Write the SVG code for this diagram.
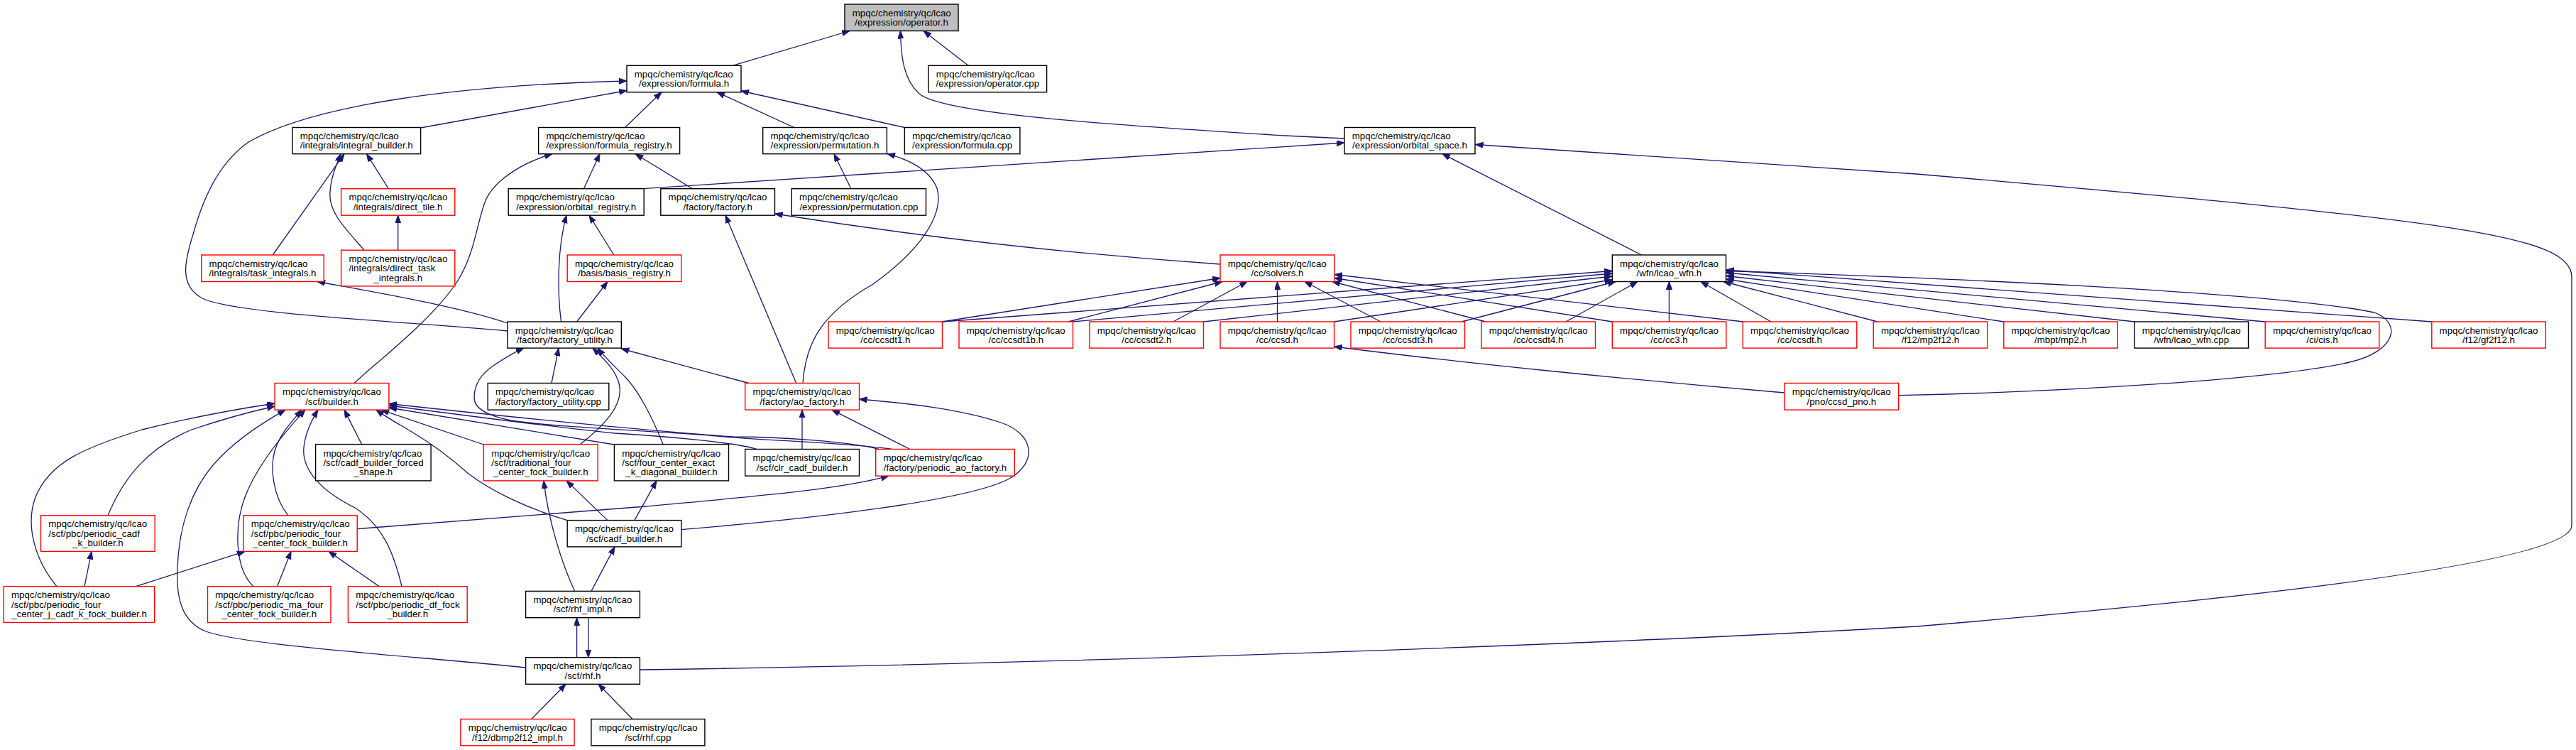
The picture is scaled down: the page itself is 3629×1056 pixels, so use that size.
<svg xmlns="http://www.w3.org/2000/svg" width="3629" height="1056" viewBox="0 0 3629 1056">
<style>
.n rect{fill:#fff;stroke:#000;stroke-width:1.4}
.n.r rect{stroke:#f00}
.n.g rect{fill:#bfbfbf}
text{font-family:"Liberation Sans",Arial,Helvetica,sans-serif;font-size:13.3px;fill:#000}
.m{text-anchor:middle}
#edges path{fill:none;stroke:#191970;stroke-width:1.3;marker-end:url(#a)}
</style>
<defs>
<marker id="a" markerUnits="userSpaceOnUse" markerWidth="12" markerHeight="9" refX="11" refY="4" orient="auto"><path d="M0,0 L11,4 L0,8 z" fill="#191970" stroke="#191970" stroke-width="1"/></marker>
</defs>
<rect width="3629" height="1056" fill="#fff"/>

<g id="edges">
<path d="M1032,92.3 L1197,43.5"/>
<path d="M1364,92.3 L1301,43.5"/>
<path d="M1894,195 L1810,191 C1600,178 1330,162 1295,132 C1273,112 1269,80 1268.6,43.5"/>
<path d="M592.6,180 L883,127.5"/>
<path d="M715,466 C560,452 330,442 285,420 C252,402 260,368 272,330 C290,265 315,225 350,200 C440,148 640,120 883,114"/>
<path d="M880.5,179.5 L932,129.8"/>
<path d="M1118.8,179.5 L1010,129.8"/>
<path d="M1274.4,179.5 L1044,128"/>
<path d="M547.3,265.7 L516.5,216.7"/>
<path d="M384.2,359 L485,216.7"/>
<path d="M513,352.2 C490,325 462,300 465,270 C466,250 474,232 480,216.7"/>
<path d="M560.7,352.2 L560.7,303.2"/>
<path d="M822.4,265.7 L845,216.7"/>
<path d="M975.5,265.7 L895,216.7"/>
<path d="M499,539.5 C530,510 610,450 645,395 C670,355 672,310 685,280 C700,250 740,228 778,216.7"/>
<path d="M905.8,265.7 L1894,201"/>
<path d="M2312.5,359 L2032,216.7"/>
<path d="M901.4,943 C1500,935 2300,905 2700,882 C3200,840 3623,790 3623,740 L3623,390 C3623,330 3450,310 2700,245 L2078.6,203.5"/>
<path d="M864.8,359 L830,303.2"/>
<path d="M790.5,453 C785,410 785,350 798,303.2"/>
<path d="M1719,372 Q1400,350 1091.5,301"/>
<path d="M1121.7,539.5 L1022,303.2"/>
<path d="M1198.9,265.7 L1175,216.7"/>
<path d="M1131,539.5 C1135,480 1160,440 1230,400 C1300,350 1330,300 1320,265 C1310,240 1282,225 1250,216.7"/>
<path d="M812.6,453 L856,396.5"/>
<path d="M715,455 C640,430 520,410 447,396.5"/>
<path d="M1327,453 L1719,391.5"/>
<path d="M1505,453 L1722,396.5"/>
<path d="M1652.7,453 L1757,396.5"/>
<path d="M1799.5,453 L1799.5,396.5"/>
<path d="M1945,453 L1838,396.5"/>
<path d="M2093,453 L1877,396.5"/>
<path d="M2271.5,453 L1880,391.5"/>
<path d="M2456,453 L1880,386.5"/>
<path d="M1327.8,453 L2271.3,381.5"/>
<path d="M1511.5,453 L2271.3,385"/>
<path d="M1695.5,453 L2271.3,389"/>
<path d="M1879.5,453 L2271.3,394"/>
<path d="M2059,453 L2276,396.5"/>
<path d="M2206,453 L2307,396.5"/>
<path d="M2351.4,453 L2351.4,396.5"/>
<path d="M2495,453 L2396,396.5"/>
<path d="M2645,453 L2428,396.5"/>
<path d="M2823,453 L2431.5,393"/>
<path d="M3007,453 L2431.5,388.5"/>
<path d="M3191,453 L2431.5,384"/>
<path d="M3426,453 L2431.5,380"/>
<path d="M2674.7,556.6 C2900,552 3200,535 3310,510 C3375,495 3385,455 3345,440 C3200,410 2700,390 2431.5,381.5"/>
<path d="M2513.9,553 C2300,535 2050,510 1879.5,488"/>
<path d="M1257,632.5 C1180,622 1060,620 1000,613 C880,605 770,600 720,592 C685,585 668,575 668,560 C668,540 680,525 695,515 C708,506 720,498 738,490.1"/>
<path d="M777,539.5 L787,490.1"/>
<path d="M817.5,625.6 C850,600 880,570 872,540 C867,520 850,505 835,490.1"/>
<path d="M934,625.6 C920,590 900,550 880,530 C865,515 852,503 842,490.1"/>
<path d="M1054.7,539.5 L875.3,491"/>
<path d="M1130,632.5 L1130,577.1"/>
<path d="M1282,632.5 L1172,577.1"/>
<path d="M959.8,745.6 C1150,730 1360,705 1420,675 C1465,650 1455,610 1410,595 C1350,575 1270,567 1210.5,562"/>
<path d="M503.2,744.6 L910,713 C1050,700 1180,690 1252,670.1"/>
<path d="M856,732.6 L798,676.9"/>
<path d="M809.6,832.4 C790,790 772,730 766,676.9"/>
<path d="M833,832.4 L866,769.9"/>
<path d="M893.8,732.6 L925,676.9"/>
<path d="M191.5,825.6 L345,776.4"/>
<path d="M390.6,825.6 L410,776.4"/>
<path d="M534,825.6 L463,776.4"/>
<path d="M119,825.6 L129,776.4"/>
<path d="M812.6,925.7 L812.6,869.7"/>
<path d="M828.8,869.7 L828.8,925.7"/>
<path d="M748.7,1012.5 L797,963.3"/>
<path d="M891,1012.5 L843,963.3"/>
<path d="M80,825.6 C50,790 35,740 50,700 C70,650 120,630 200,605 C280,585 340,575 387.1,568"/>
<path d="M152,725.8 C175,670 210,630 270,605 C320,588 360,578 387.1,572"/>
<path d="M740.6,940 C600,925 350,910 290,889 C255,875 248,840 250,800 C252,740 270,690 300,655 C330,620 370,595 402,577.1"/>
<path d="M406,725.8 C385,700 380,660 387,635 C395,610 410,595 425,577.1"/>
<path d="M357,825.6 C330,800 330,740 345,700 C360,660 395,615 430,577.1"/>
<path d="M566,825.6 C555,780 540,740 500,715 C450,690 425,660 428,630 C430,610 440,590 448,577.1"/>
<path d="M509.6,625.6 L485,577.1"/>
<path d="M799.2,732.6 C740,715 690,690 660,667 C630,640 600,620 580,608 C560,596 545,588 530,577.1"/>
<path d="M681.4,626 L537,577.1"/>
<path d="M865.4,626 L548,574"/>
<path d="M1066.5,632.5 C1040,624 950,615 866,610 C750,598 620,580 548,571"/>
<path d="M1238,632.5 C1200,622 1100,615 1033,615 C900,606 700,585 548,568.5"/>
</g>

<g id="n_operator_h" class="n g"><rect x="1190" y="6" width="160" height="37.5"/><text x="1200.8" y="22.7">mpqc/chemistry/qc/lcao</text><text class="m" x="1270" y="36.1">/expression/operator.h</text></g>
<g id="n_formula_h" class="n"><rect x="883" y="92.3" width="161" height="37.5"/><text x="893.8" y="109">mpqc/chemistry/qc/lcao</text><text class="m" x="963.5" y="122.4">/expression/formula.h</text></g>
<g id="n_operator_cpp" class="n"><rect x="1308" y="92.3" width="166.6" height="37.5"/><text x="1318.8" y="109">mpqc/chemistry/qc/lcao</text><text class="m" x="1391.3" y="122.4">/expression/operator.cpp</text></g>
<g id="n_integral_builder_h" class="n"><rect x="412" y="179.5" width="180.6" height="37.2"/><text x="422.8" y="196">mpqc/chemistry/qc/lcao</text><text class="m" x="502.3" y="209.4">/integrals/integral_builder.h</text></g>
<g id="n_formula_registry_h" class="n"><rect x="758.6" y="179.5" width="199" height="37.2"/><text x="769.4" y="196">mpqc/chemistry/qc/lcao</text><text class="m" x="858.1" y="209.4">/expression/formula_registry.h</text></g>
<g id="n_permutation_h" class="n"><rect x="1074.7" y="179.5" width="174.7" height="37.2"/><text x="1085.5" y="196">mpqc/chemistry/qc/lcao</text><text class="m" x="1162" y="209.4">/expression/permutation.h</text></g>
<g id="n_formula_cpp" class="n"><rect x="1274.4" y="179.5" width="162.5" height="37.2"/><text x="1285.2" y="196">mpqc/chemistry/qc/lcao</text><text class="m" x="1355.6" y="209.4">/expression/formula.cpp</text></g>
<g id="n_orbital_space_h" class="n"><rect x="1894" y="179.5" width="184" height="37.2"/><text x="1904.8" y="196">mpqc/chemistry/qc/lcao</text><text class="m" x="1986" y="209.4">/expression/orbital_space.h</text></g>
<g id="n_direct_tile_h" class="n r"><rect x="480.6" y="265.7" width="160.2" height="37.5"/><text x="491.4" y="282.4">mpqc/chemistry/qc/lcao</text><text class="m" x="560.7" y="295.8">/integrals/direct_tile.h</text></g>
<g id="n_orbital_registry_h" class="n"><rect x="716.2" y="265.7" width="191" height="37.5"/><text x="727" y="282.4">mpqc/chemistry/qc/lcao</text><text class="m" x="811.7" y="295.8">/expression/orbital_registry.h</text></g>
<g id="n_factory_h" class="n"><rect x="930.8" y="265.7" width="160.7" height="37.5"/><text x="941.6" y="282.4">mpqc/chemistry/qc/lcao</text><text class="m" x="1011.2" y="295.8">/factory/factory.h</text></g>
<g id="n_permutation_cpp" class="n"><rect x="1115.3" y="265.7" width="189.2" height="37.5"/><text x="1126.1" y="282.4">mpqc/chemistry/qc/lcao</text><text class="m" x="1209.9" y="295.8">/expression/permutation.cpp</text></g>
<g id="n_task_integrals_h" class="n r"><rect x="283.8" y="359" width="172.4" height="37.5"/><text x="294.6" y="375.7">mpqc/chemistry/qc/lcao</text><text class="m" x="370" y="389.1">/integrals/task_integrals.h</text></g>
<g id="n_direct_task_integrals_h" class="n r"><rect x="480.6" y="352.2" width="160.2" height="50.7"/><text x="491.4" y="368.8">mpqc/chemistry/qc/lcao</text><text x="491.4" y="382.2">/integrals/direct_task</text><text class="m" x="560.7" y="395.6">_integrals.h</text></g>
<g id="n_basis_registry_h" class="n r"><rect x="799.2" y="359" width="160.6" height="37.5"/><text x="810" y="375.7">mpqc/chemistry/qc/lcao</text><text class="m" x="879.5" y="389.1">/basis/basis_registry.h</text></g>
<g id="n_solvers_h" class="n r"><rect x="1719" y="359" width="161" height="37.5"/><text x="1729.8" y="375.7">mpqc/chemistry/qc/lcao</text><text class="m" x="1799.5" y="389.1">/cc/solvers.h</text></g>
<g id="n_lcao_wfn_h" class="n"><rect x="2271.3" y="359" width="160.2" height="37.5"/><text x="2282.1" y="375.7">mpqc/chemistry/qc/lcao</text><text class="m" x="2351.4" y="389.1">/wfn/lcao_wfn.h</text></g>
<g id="n_factory_utility_h" class="n"><rect x="715" y="453" width="160.3" height="37.1"/><text x="725.8" y="469.5">mpqc/chemistry/qc/lcao</text><text class="m" x="795.2" y="482.9">/factory/factory_utility.h</text></g>
<g id="n_ccsdt1_h" class="n r"><rect x="1167" y="453" width="160.5" height="37.1"/><text x="1177.8" y="469.5">mpqc/chemistry/qc/lcao</text><text class="m" x="1247.3" y="482.9">/cc/ccsdt1.h</text></g>
<g id="n_ccsdt1b_h" class="n r"><rect x="1351" y="453" width="160.5" height="37.1"/><text x="1361.8" y="469.5">mpqc/chemistry/qc/lcao</text><text class="m" x="1431.3" y="482.9">/cc/ccsdt1b.h</text></g>
<g id="n_ccsdt2_h" class="n r"><rect x="1535" y="453" width="160.5" height="37.1"/><text x="1545.8" y="469.5">mpqc/chemistry/qc/lcao</text><text class="m" x="1615.3" y="482.9">/cc/ccsdt2.h</text></g>
<g id="n_ccsd_h" class="n r"><rect x="1719" y="453" width="160.5" height="37.1"/><text x="1729.8" y="469.5">mpqc/chemistry/qc/lcao</text><text class="m" x="1799.3" y="482.9">/cc/ccsd.h</text></g>
<g id="n_ccsdt3_h" class="n r"><rect x="1903" y="453" width="160.5" height="37.1"/><text x="1913.8" y="469.5">mpqc/chemistry/qc/lcao</text><text class="m" x="1983.3" y="482.9">/cc/ccsdt3.h</text></g>
<g id="n_ccsdt4_h" class="n r"><rect x="2087" y="453" width="160.5" height="37.1"/><text x="2097.8" y="469.5">mpqc/chemistry/qc/lcao</text><text class="m" x="2167.3" y="482.9">/cc/ccsdt4.h</text></g>
<g id="n_cc3_h" class="n r"><rect x="2271.3" y="453" width="160.5" height="37.1"/><text x="2282.1" y="469.5">mpqc/chemistry/qc/lcao</text><text class="m" x="2351.5" y="482.9">/cc/cc3.h</text></g>
<g id="n_ccsdt_h" class="n r"><rect x="2455.3" y="453" width="160.5" height="37.1"/><text x="2466.1" y="469.5">mpqc/chemistry/qc/lcao</text><text class="m" x="2535.5" y="482.9">/cc/ccsdt.h</text></g>
<g id="n_mp2f12_h" class="n r"><rect x="2639.2" y="453" width="160.5" height="37.1"/><text x="2650" y="469.5">mpqc/chemistry/qc/lcao</text><text class="m" x="2719.4" y="482.9">/f12/mp2f12.h</text></g>
<g id="n_mp2_h" class="n r"><rect x="2822.8" y="453" width="160.5" height="37.1"/><text x="2833.6" y="469.5">mpqc/chemistry/qc/lcao</text><text class="m" x="2903" y="482.9">/mbpt/mp2.h</text></g>
<g id="n_lcao_wfn_cpp" class="n"><rect x="3007" y="453" width="160.5" height="37.1"/><text x="3017.8" y="469.5">mpqc/chemistry/qc/lcao</text><text class="m" x="3087.2" y="482.9">/wfn/lcao_wfn.cpp</text></g>
<g id="n_cis_h" class="n r"><rect x="3191.2" y="453" width="160.5" height="37.1"/><text x="3202" y="469.5">mpqc/chemistry/qc/lcao</text><text class="m" x="3271.4" y="482.9">/ci/cis.h</text></g>
<g id="n_gf2f12_h" class="n r"><rect x="3425.8" y="453" width="160.5" height="37.1"/><text x="3436.6" y="469.5">mpqc/chemistry/qc/lcao</text><text class="m" x="3506" y="482.9">/f12/gf2f12.h</text></g>
<g id="n_builder_h" class="n r"><rect x="387.1" y="539.5" width="160.8" height="37.6"/><text x="397.9" y="556.2">mpqc/chemistry/qc/lcao</text><text class="m" x="467.5" y="569.6">/scf/builder.h</text></g>
<g id="n_factory_utility_cpp" class="n"><rect x="687.2" y="539.5" width="170.6" height="37.6"/><text x="698" y="556.2">mpqc/chemistry/qc/lcao</text><text class="m" x="772.5" y="569.6">/factory/factory_utility.cpp</text></g>
<g id="n_ao_factory_h" class="n r"><rect x="1049.7" y="539.5" width="160.8" height="37.6"/><text x="1060.5" y="556.2">mpqc/chemistry/qc/lcao</text><text class="m" x="1130.1" y="569.6">/factory/ao_factory.h</text></g>
<g id="n_ccsd_pno_h" class="n r"><rect x="2513.9" y="539.5" width="160.8" height="37.6"/><text x="2524.7" y="556.2">mpqc/chemistry/qc/lcao</text><text class="m" x="2594.3" y="569.6">/pno/ccsd_pno.h</text></g>
<g id="n_cadf_builder_forced_shape_h" class="n"><rect x="444.6" y="625.6" width="162.5" height="51.3"/><text x="455.4" y="642.5">mpqc/chemistry/qc/lcao</text><text x="455.4" y="655.9">/scf/cadf_builder_forced</text><text class="m" x="525.9" y="669.3">_shape.h</text></g>
<g id="n_traditional_four_center_fock_builder_h" class="n r"><rect x="681.4" y="625.6" width="160.8" height="51.3"/><text x="692.2" y="642.5">mpqc/chemistry/qc/lcao</text><text x="692.2" y="655.9">/scf/traditional_four</text><text class="m" x="761.8" y="669.3">_center_fock_builder.h</text></g>
<g id="n_four_center_exact_k_diagonal_builder_h" class="n"><rect x="865.4" y="625.6" width="161.1" height="51.3"/><text x="876.2" y="642.5">mpqc/chemistry/qc/lcao</text><text x="876.2" y="655.9">/scf/four_center_exact</text><text class="m" x="946" y="669.3">_k_diagonal_builder.h</text></g>
<g id="n_clr_cadf_builder_h" class="n"><rect x="1049.7" y="632.5" width="160.8" height="37.6"/><text x="1060.5" y="649.2">mpqc/chemistry/qc/lcao</text><text class="m" x="1130.1" y="662.6">/scf/clr_cadf_builder.h</text></g>
<g id="n_periodic_ao_factory_h" class="n r"><rect x="1233.7" y="632.5" width="195.6" height="37.6"/><text x="1244.5" y="649.2">mpqc/chemistry/qc/lcao</text><text class="m" x="1331.5" y="662.6">/factory/periodic_ao_factory.h</text></g>
<g id="n_periodic_cadf_k_builder_h" class="n r"><rect x="57.5" y="725.8" width="160.7" height="50.6"/><text x="68.3" y="742.3">mpqc/chemistry/qc/lcao</text><text x="68.3" y="755.7">/scf/pbc/periodic_cadf</text><text class="m" x="137.9" y="769.1">_k_builder.h</text></g>
<g id="n_periodic_four_center_fock_builder_h" class="n r"><rect x="343" y="725.8" width="160.2" height="50.6"/><text x="353.8" y="742.3">mpqc/chemistry/qc/lcao</text><text x="353.8" y="755.7">/scf/pbc/periodic_four</text><text class="m" x="423.1" y="769.1">_center_fock_builder.h</text></g>
<g id="n_cadf_builder_h" class="n"><rect x="799.2" y="732.6" width="160.6" height="37.3"/><text x="810" y="749.2">mpqc/chemistry/qc/lcao</text><text class="m" x="879.5" y="762.6">/scf/cadf_builder.h</text></g>
<g id="n_periodic_four_center_j_cadf_k_fock_builder_h" class="n r"><rect x="5.2" y="825.6" width="212.5" height="50.9"/><text x="16" y="842.3">mpqc/chemistry/qc/lcao</text><text x="16" y="855.7">/scf/pbc/periodic_four</text><text class="m" x="111.5" y="869.1">_center_j_cadf_k_fock_builder.h</text></g>
<g id="n_periodic_ma_four_center_fock_builder_h" class="n r"><rect x="292.5" y="825.6" width="173.5" height="50.9"/><text x="303.3" y="842.3">mpqc/chemistry/qc/lcao</text><text x="303.3" y="855.7">/scf/pbc/periodic_ma_four</text><text class="m" x="379.3" y="869.1">_center_fock_builder.h</text></g>
<g id="n_periodic_df_fock_builder_h" class="n r"><rect x="490.4" y="825.6" width="167.8" height="50.9"/><text x="501.2" y="842.3">mpqc/chemistry/qc/lcao</text><text x="501.2" y="855.7">/scf/pbc/periodic_df_fock</text><text class="m" x="574.3" y="869.1">_builder.h</text></g>
<g id="n_rhf_impl_h" class="n"><rect x="740.6" y="832.4" width="160.8" height="37.3"/><text x="751.4" y="849">mpqc/chemistry/qc/lcao</text><text class="m" x="821" y="862.4">/scf/rhf_impl.h</text></g>
<g id="n_rhf_h" class="n"><rect x="740.6" y="925.7" width="160.8" height="37.6"/><text x="751.4" y="942.4">mpqc/chemistry/qc/lcao</text><text class="m" x="821" y="955.8">/scf/rhf.h</text></g>
<g id="n_dbmp2f12_impl_h" class="n r"><rect x="648.9" y="1012.5" width="160.2" height="37.3"/><text x="659.7" y="1029.1">mpqc/chemistry/qc/lcao</text><text class="m" x="729" y="1042.5">/f12/dbmp2f12_impl.h</text></g>
<g id="n_rhf_cpp" class="n"><rect x="832.9" y="1012.5" width="160" height="37.3"/><text x="843.7" y="1029.1">mpqc/chemistry/qc/lcao</text><text class="m" x="912.9" y="1042.5">/scf/rhf.cpp</text></g>
</svg>
